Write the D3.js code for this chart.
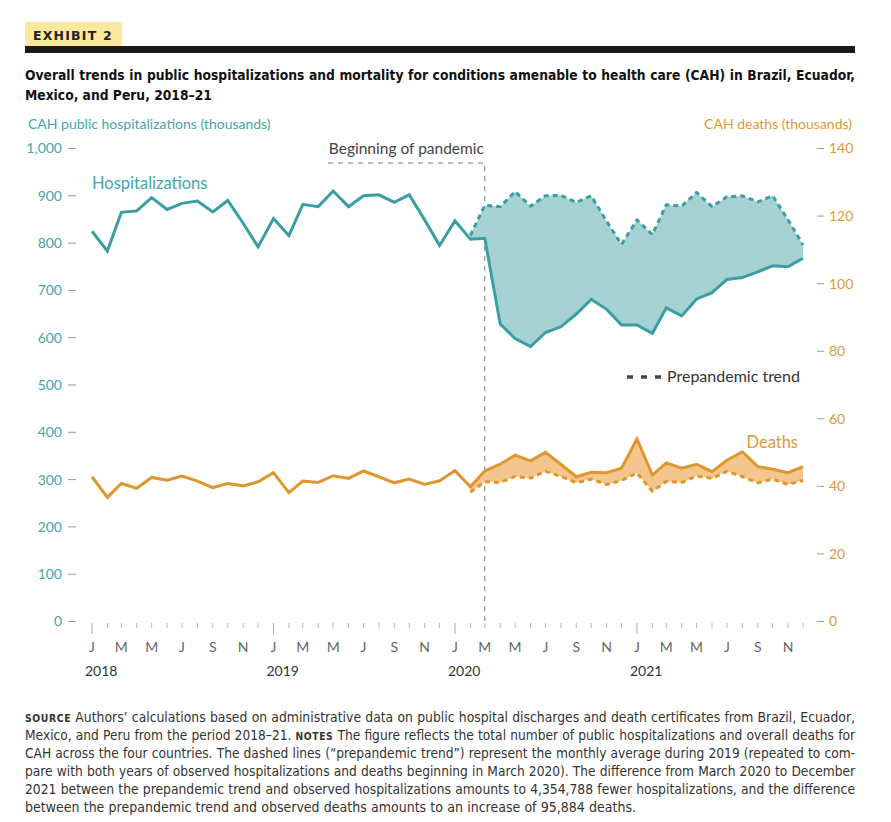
<!DOCTYPE html>
<html>
<head>
<meta charset="utf-8">
<script src="https://cdn.jsdelivr.net/npm/d3@7"></script>
<style>
  html, body { margin: 0; padding: 0; background: #fff; }
  svg { display: block; }
</style>
</head>
<body>
<svg id="chart" width="891" height="822"></svg>
<script>
// ---------------- DATA ----------------
const months = [
  "2018-01","2018-02","2018-03","2018-04","2018-05","2018-06","2018-07","2018-08","2018-09","2018-10","2018-11","2018-12",
  "2019-01","2019-02","2019-03","2019-04","2019-05","2019-06","2019-07","2019-08","2019-09","2019-10","2019-11","2019-12",
  "2020-01","2020-02","2020-03","2020-04","2020-05","2020-06","2020-07","2020-08","2020-09","2020-10","2020-11","2020-12",
  "2021-01","2021-02","2021-03","2021-04","2021-05","2021-06","2021-07","2021-08","2021-09","2021-10","2021-11","2021-12"
];
const monthLetters = ["J","F","M","A","M","J","J","A","S","O","N","D"];
const yearLabels = ["2018","2019","2020","2021"];
const leftTicks = [0,100,200,300,400,500,600,700,800,900,1000];
const rightTicks = [0,20,40,60,80,100,120,140];

// CAH public hospitalizations (thousands), Jan 2018 – Dec 2021
const hospitalizations = [
  824, 782, 864, 867, 895, 870, 883, 888, 865, 889, 841, 791,
  851, 815, 881, 876, 909, 876, 899, 901, 885, 901, 848, 794,
  846, 807, 809, 628, 597, 580, 610, 622, 649, 680, 659, 626,
  626, 608, 662, 645, 681, 694, 722, 726, 738, 751, 749, 767
];
// Prepandemic trend for hospitalizations, Feb 2020 – Dec 2021
const hospTrend = [
  815, 879, 876, 908, 877, 899, 900, 885, 899, 845, 796,
  848, 817, 880, 877, 906, 876, 897, 899, 886, 899, 848, 795
];
// CAH deaths (thousands), Jan 2018 – Dec 2021
const deaths = [
  42.7, 36.6, 40.7, 39.3, 42.5, 41.7, 42.9, 41.4, 39.5, 40.7, 40.0, 41.2,
  43.9, 38.0, 41.4, 41.0, 43.0, 42.2, 44.4, 42.7, 40.9, 42.0, 40.4, 41.5,
  44.5, 39.7, 44.4, 46.4, 49.1, 47.4, 49.9, 46.4, 42.7, 44.0, 43.9, 45.2,
  53.9, 43.2, 46.8, 45.2, 46.4, 44.2, 47.6, 50.1, 45.7, 44.9, 43.9, 45.7
];
// Prepandemic trend for deaths, Feb 2020 – Dec 2021
const deathsTrend = [
  38.1, 41.2, 41.0, 42.8, 42.3, 44.3, 42.8, 40.9, 42.0, 40.4, 41.6,
  43.8, 38.4, 41.3, 41.0, 42.9, 42.2, 44.3, 42.7, 40.9, 42.0, 40.4, 41.6
];

const titleLines = [
  "Overall trends in public hospitalizations and mortality for conditions amenable to health care (CAH) in Brazil, Ecuador,",
  "Mexico, and Peru, 2018–21"
];
const noteLines = [
  [["SOURCE", true], [" Authors’ calculations based on administrative data on public hospital discharges and death certificates from Brazil, Ecuador,", false]],
  [["Mexico, and Peru from the period 2018–21. ", false], ["NOTES", true], [" The figure reflects the total number of public hospitalizations and overall deaths for", false]],
  [["CAH across the four countries. The dashed lines (“prepandemic trend”) represent the monthly average during 2019 (repeated to com-", false]],
  [["pare with both years of observed hospitalizations and deaths beginning in March 2020). The difference from March 2020 to December", false]],
  [["2021 between the prepandemic trend and observed hospitalizations amounts to 4,354,788 fewer hospitalizations, and the difference", false]],
  [["between the prepandemic trend and observed deaths amounts to an increase of 95,884 deaths.", false]]
];

// ---------------- STYLE ----------------
const TEAL = "#3a9ea2", TEAL_FILL = "#a7d2d4", TEAL_TXT = "#45a6a9";
const ORANGE = "#e0962f", ORANGE_FILL = "#f3c68e", ORANGE_TXT = "#e09a35";
const GREY = "#9a9a9a";
const FONT = "Lato, 'Open Sans', sans-serif";
const COND = "'Liberation Sans Narrow', 'DejaVu Sans Condensed', 'Roboto Condensed', sans-serif";

const svg = d3.select("#chart");
svg.append("rect").attr("width", 891).attr("height", 822).attr("fill", "#fff");

// fit a text element to a width: shrink font if too long, then justify with word-spacing
function fitText(el, width, baseSize, justify) {
  el.attr("font-size", baseSize);
  let len = el.node().getComputedTextLength();
  let size = baseSize;
  if (len > width) {
    size = baseSize * width / len * 0.995;
    el.attr("font-size", size);
    el.selectAll("tspan").each(function () {
      const ts = d3.select(this);
      const fs = ts.attr("data-rel");
      if (fs) ts.attr("font-size", size * (+fs));
    });
    len = el.node().getComputedTextLength();
  }
  if (justify && len < width) {
    const spaces = (el.text().match(/ /g) || []).length;
    if (spaces > 0) el.attr("word-spacing", (width - len) / spaces);
  }
  return size;
}

// ---------------- HEADER ----------------
svg.append("rect").attr("x", 25).attr("y", 22).attr("width", 97).attr("height", 25).attr("fill", "#fce99c");
svg.append("text").attr("x", 33).attr("y", 40).text("EXHIBIT 2")
  .attr("font-family", "'DejaVu Sans', sans-serif").attr("font-weight", "bold")
  .attr("font-size", 12.5).attr("letter-spacing", 1.2).attr("fill", "#222");
svg.append("rect").attr("x", 25).attr("y", 46).attr("width", 830).attr("height", 7).attr("fill", "#1a1a1a");

let titleSize = 15;
titleLines.forEach((t, i) => {
  const el = svg.append("text").attr("x", 25).attr("y", 80 + i * 20).text(t)
    .attr("font-family", COND).attr("font-weight", "bold").attr("fill", "#111");
  if (i === 0) titleSize = fitText(el, 830, 15, true);
  else el.attr("font-size", titleSize);
});

// ---------------- SCALES ----------------
const parse = d3.timeParse("%Y-%m");
const dates = months.map(parse);
const x = d3.scaleTime().domain([dates[0], dates[47]]).range([92, 803]);
const yL = d3.scaleLinear().domain([0, 1000]).range([621, 148]);
const yR = d3.scaleLinear().domain([0, 140]).range([621, 148]);

// axis titles
svg.append("text").attr("x", 28).attr("y", 129).text("CAH public hospitalizations (thousands)")
  .attr("font-family", FONT).attr("font-size", 14).attr("fill", TEAL_TXT);
svg.append("text").attr("x", 852).attr("y", 129).attr("text-anchor", "end").text("CAH deaths (thousands)")
  .attr("font-family", FONT).attr("font-size", 14).attr("fill", ORANGE_TXT);

// left axis
const leftAxis = d3.axisLeft(yL).tickValues(leftTicks).tickFormat(d3.format(",")).tickSize(0).tickPadding(0);
const gL = svg.append("g").attr("transform", "translate(76,0)").call(leftAxis);
gL.select(".domain").remove();
gL.selectAll(".tick").each(function () {
  const g = d3.select(this);
  g.append("line").attr("x1", -8).attr("x2", 0).attr("y1", 0).attr("y2", 0).attr("stroke", GREY).attr("stroke-width", 1);
  g.select("text").attr("x", -14).attr("dy", "0.35em").attr("font-family", FONT).attr("font-size", 14).attr("fill", TEAL_TXT);
});

// right axis
const rightAxis = d3.axisRight(yR).tickValues(rightTicks).tickSize(0).tickPadding(0);
const gR = svg.append("g").attr("transform", "translate(817,0)").call(rightAxis);
gR.select(".domain").remove();
gR.selectAll(".tick").each(function () {
  const g = d3.select(this);
  g.append("line").attr("x1", 0).attr("x2", 7).attr("y1", 0).attr("y2", 0).attr("stroke", GREY).attr("stroke-width", 1);
  g.select("text").attr("x", 12).attr("dy", "0.35em").attr("font-family", FONT).attr("font-size", 14).attr("fill", ORANGE_TXT);
});

// x axis ticks
const xg = svg.append("g");
dates.forEach((d) => {
  const major = d.getMonth() === 0;
  xg.append("line").attr("x1", x(d)).attr("x2", x(d)).attr("y1", 623).attr("y2", major ? 634 : 628)
    .attr("stroke", major ? "#aaa" : "#bbb").attr("stroke-width", 1);
  if (d.getMonth() % 2 === 0) {
    xg.append("text").attr("x", x(d)).attr("y", 652).attr("text-anchor", "middle")
      .text(monthLetters[d.getMonth()]).attr("font-family", FONT).attr("font-size", 14).attr("fill", "#666");
  }
});
yearLabels.forEach(yr => {
  svg.append("text").attr("x", x(parse(yr + "-01")) - 7).attr("y", 676).text(yr)
    .attr("font-family", FONT).attr("font-size", 14).attr("fill", "#333");
});

// ---------------- PANDEMIC MARKER ----------------
const xp = x(parse("2020-03"));
svg.append("path").attr("d", `M328,163 H${xp} V621`).attr("fill", "none")
  .attr("stroke", "#777").attr("stroke-width", 1).attr("stroke-dasharray", "5,5");
svg.append("text").attr("x", (328 + xp) / 2).attr("y", 154).attr("text-anchor", "middle").text("Beginning of pandemic")
  .attr("font-family", FONT).attr("font-size", 15.5).attr("fill", "#444");

// ---------------- SERIES ----------------
const trendIdx0 = 25;
const hospBand = hospTrend.map((v, i) => ({ d: dates[trendIdx0 + i], obs: hospitalizations[trendIdx0 + i], tr: v }));
const deathBand = deathsTrend.map((v, i) => ({ d: dates[trendIdx0 + i], obs: deaths[trendIdx0 + i], tr: v }));

svg.append("path").datum(hospBand).attr("fill", TEAL_FILL)
  .attr("d", d3.area().x(p => x(p.d)).y0(p => yL(p.obs)).y1(p => yL(p.tr)));
svg.append("path").datum(deathBand).attr("fill", ORANGE_FILL)
  .attr("d", d3.area().x(p => x(p.d)).y0(p => yR(p.obs)).y1(p => yR(p.tr)));

// trend dashed lines
svg.append("path").datum(hospBand).attr("fill", "none").attr("stroke", TEAL).attr("stroke-width", 3)
  .attr("stroke-dasharray", "5,4").attr("stroke-linejoin", "round")
  .attr("d", d3.line().x(p => x(p.d)).y(p => yL(p.tr)));
svg.append("path").datum(deathBand).attr("fill", "none").attr("stroke", ORANGE).attr("stroke-width", 3)
  .attr("stroke-dasharray", "5,4").attr("stroke-linejoin", "round")
  .attr("d", d3.line().x(p => x(p.d)).y(p => yR(p.tr)));

// observed lines
svg.append("path").datum(hospitalizations).attr("fill", "none").attr("stroke", TEAL).attr("stroke-width", 3)
  .attr("stroke-linejoin", "miter")
  .attr("d", d3.line().x((v, i) => x(dates[i])).y(v => yL(v)));
svg.append("path").datum(deaths).attr("fill", "none").attr("stroke", ORANGE).attr("stroke-width", 3)
  .attr("stroke-linejoin", "miter")
  .attr("d", d3.line().x((v, i) => x(dates[i])).y(v => yR(v)));

// labels
svg.append("text").attr("x", 92).attr("y", 189).text("Hospitalizations")
  .attr("font-family", FONT).attr("font-size", 16.5).attr("fill", TEAL_TXT);
svg.append("text").attr("x", 798).attr("y", 448).attr("text-anchor", "end").text("Deaths")
  .attr("font-family", FONT).attr("font-size", 16.5).attr("fill", ORANGE_TXT);
svg.append("line").attr("x1", 627).attr("x2", 661).attr("y1", 377).attr("y2", 377)
  .attr("stroke", "#444").attr("stroke-width", 3.5).attr("stroke-dasharray", "6,8");
svg.append("text").attr("x", 667).attr("y", 382).text("Prepandemic trend")
  .attr("font-family", FONT).attr("font-size", 16).attr("fill", "#333");

// ---------------- NOTES ----------------
noteLines.forEach((segs, i) => {
  const t = svg.append("text").attr("x", 25).attr("y", 722 + i * 18)
    .attr("font-family", COND).attr("fill", "#333");
  segs.forEach(([s, b]) => {
    const ts = t.append("tspan").text(s);
    if (b) ts.attr("font-weight", "bold").attr("data-rel", 0.75).attr("font-size", 10.5).attr("letter-spacing", 0.6);
  });
  if (i < noteLines.length - 1) fitText(t, 830, 14, true);
  else fitText(t, 611, 14, true);
});
</script>
</body>
</html>
